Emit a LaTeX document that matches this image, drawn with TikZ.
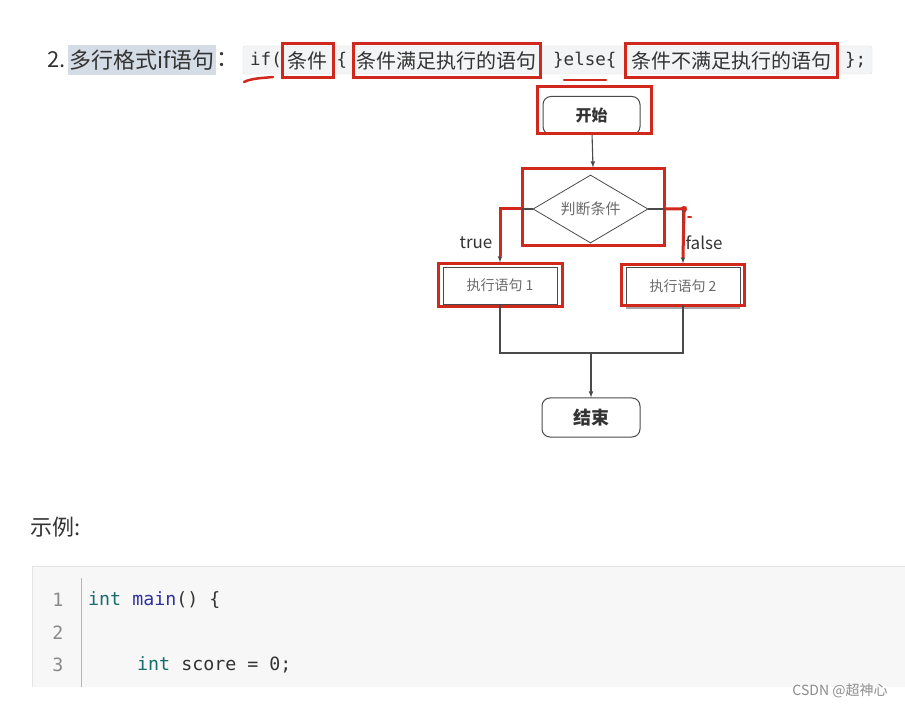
\documentclass[tikz,border=0pt]{standalone}
\usepackage{fontspec}
\setmainfont{Noto Sans CJK SC}
\setmonofont{DejaVu Sans Mono}
\usepackage{xcolor}
\usetikzlibrary{positioning,shapes.geometric}

\begin{document}
\begin{tikzpicture}[x=1pt, y=-1pt,
    txt/.style={inner sep=0pt, text=textgray},
  ]
  % Colours
  \definecolor{textgray}{HTML}{333333}
  \definecolor{markred}{HTML}{D0281C}   % hand-drawn red marks
  \definecolor{selblue}{HTML}{D4DCE5}   % selection highlight
  \definecolor{barfill}{HTML}{F3F4F5}
  \definecolor{barbdr}{HTML}{E0E2E4}
  \definecolor{flowgray}{HTML}{4A4A4A}
  \definecolor{labelgray}{HTML}{6A6A6A}
  \definecolor{blockfill}{HTML}{F7F7F7}
  \definecolor{blockbdr}{HTML}{E4E4E4}
  \definecolor{numgray}{HTML}{8A8A8A}
  \definecolor{kwteal}{HTML}{176C6C}
  \definecolor{fnblue}{HTML}{30309E}

  \tikzstyle{headfont} = [font=\fontsize{22}{22}\selectfont]
  \tikzstyle{cjkfont} = [font=\fontsize{20}{20}\selectfont]
  \tikzstyle{barcode} = [font=\ttfamily\fontsize{17.5}{17.5}\selectfont]
  \tikzstyle{codefont} = [font=\ttfamily\fontsize{18.3}{18.3}\selectfont]
  \tikzstyle{redbox} = [draw=markred, line width=3pt, inner sep=0pt, text=textgray]
  \tikzstyle{marker} = [draw=markred, line width=3pt, line cap=round]
  \tikzstyle{flowline} = [draw=flowgray, line width=1.1pt]
  \tikzstyle{terminal} = [draw=flowgray, fill=white, line width=1pt,
    rounded corners=8pt, minimum width=97pt, minimum height=38pt,
    text=textgray, font=\fontsize{16}{16}\selectfont\bfseries]
  \tikzstyle{process} = [draw=flowgray, fill=white, line width=0.8pt,
    minimum width=114pt, minimum height=37pt, text=labelgray,
    font=\fontsize{14}{14}\selectfont]
  \tikzstyle{decision} = [diamond, draw=flowgray, line width=0.8pt,
    aspect=1.7, minimum width=115pt, minimum height=68pt, inner sep=0pt,
    text=labelgray, font=\fontsize{15}{15}\selectfont]

  \fill[white] (0,0) rectangle (905,708);
  \useasboundingbox (0,0) rectangle (905,708);

  % Heading line
  \node[txt, headfont, anchor=west] (num) at (47,60) {2.};
  \node[txt, headfont, fill=selblue, inner xsep=1.5pt, minimum height=30pt,
    right=2pt of num] (title) {多行格式if语句};
  \node[txt, headfont, right=0pt of title] (colon) {：};

  % Inline code bar with the marked parts
  \node[draw=barbdr, fill=barfill, rounded corners=2pt,
    minimum width=629pt, minimum height=28pt] (bar) at (557.5,60) {};
  \node[txt, barcode, anchor=west] (kif) at (250,60) {if(};
  \node[redbox, cjkfont, minimum width=51pt, minimum height=34pt]
    (cond1) at (307.5,60.5) {条件};
  \node[txt, barcode] (lbrace) at (342,60) {\{};
  \node[redbox, cjkfont, minimum width=187pt, minimum height=34pt]
    (then1) at (446.5,60.5) {条件满足执行的语句};
  \node[txt, barcode, anchor=west] (kelse) at (553,60) {\}else\{};
  \node[redbox, cjkfont, minimum width=212pt, minimum height=34pt]
    (else1) at (731.5,60.5) {条件不满足执行的语句};
  \node[txt, barcode, anchor=west] (tail) at (845,60) {\};};

  % Red underlines
  \draw[marker, line width=2.5pt] (244,82) .. controls (252,78) and (264,78) .. (273,77);
  \draw[marker, line width=2.5pt] (564,80) -- (606,80);

  % Flow chart
  \node[terminal] (start) at (591.5,115.5) {开始};
  \node[decision] (cond) at (590.5,209) {判断条件};
  \node[process] (act1) at (500,285.5) {执行语句 1};
  \draw[black!35, line width=2.5pt] (626,308) -- (740,308);
  \node[process] (act2) at (683,286) {执行语句 2};
  \node[terminal, minimum width=98pt, minimum height=39pt,
    font=\fontsize{18}{18}\selectfont\bfseries] (stop) at (591,417.5) {结束};
  \coordinate (join) at (591,353);

  % Red frames round the chart
  \node[redbox, minimum width=114pt, minimum height=47pt] (rstart) at (594,110.5) {};
  \node[redbox, minimum width=142pt, minimum height=77pt] (rcond) at (593,207.5) {};
  \node[redbox, minimum width=124pt, minimum height=43pt] (ract1) at (500,285.5) {};
  \node[redbox, minimum width=123pt, minimum height=41pt] (ract2) at (683,285.5) {};

  % Connectors
  \draw[flowline, -latex] (start) -- (rcond.north);
  \draw[flowline, -latex] (cond.west) -| (ract1.north);
  \draw[flowline, -latex] (cond.east) -| (ract2.north);
  \draw[flowline] (act1.south) |- (join) -| (act2.south);
  \draw[flowline, -latex] (join) -- (stop);

  % Red strokes over the branches
  \draw[marker] (rcond.west |- cond.west) -| ([yshift=7pt]ract1.north);
  \draw[marker] (rcond.east |- cond.east) -- (681,209)
    .. controls (685,206) and (687,208) .. (684,212) -- ([yshift=7pt]ract2.north);
  \draw[marker, line width=2pt] (688,217) -- (691,217);

  \node[txt, font=\fontsize{17}{17}\selectfont] (ltrue) at (476,243) {true};
  \node[txt, font=\fontsize{17}{17}\selectfont] (lfalse) at (704,243) {false};

  % Example heading and code block
  \node[txt, headfont, anchor=west] (example) at (30,527) {示例:};
  \node[fill=blockfill, inner sep=0pt, anchor=north west,
    minimum width=873pt, minimum height=121pt] (block) at (32,566) {};
  \draw[blockbdr, line width=1pt] (block.south west) -- (block.north west) -- (block.north east);
  \coordinate (gutter) at (81,578);
  \draw[blockbdr!80!black, line width=0.8pt] (gutter) -- (gutter |- block.south);
  \foreach \n/\y in {1/600, 2/633, 3/665}
    \node[txt, codefont, text=numgray] (ln\n) at (58,\y) {\n};
  \node[txt, codefont, anchor=west] (code1) at (88,600)
    {\textcolor{kwteal}{int} \textcolor{fnblue}{main}() \{};
  \node[txt, codefont, anchor=west] (code3) at (137,665)
    {\textcolor{kwteal}{int} score = 0;};

  % Watermark
  \node[txt, text=black!45, font=\fontsize{14}{14}\selectfont] (mark) at (840,691) {CSDN @超神心};
\end{tikzpicture}
\end{document}
